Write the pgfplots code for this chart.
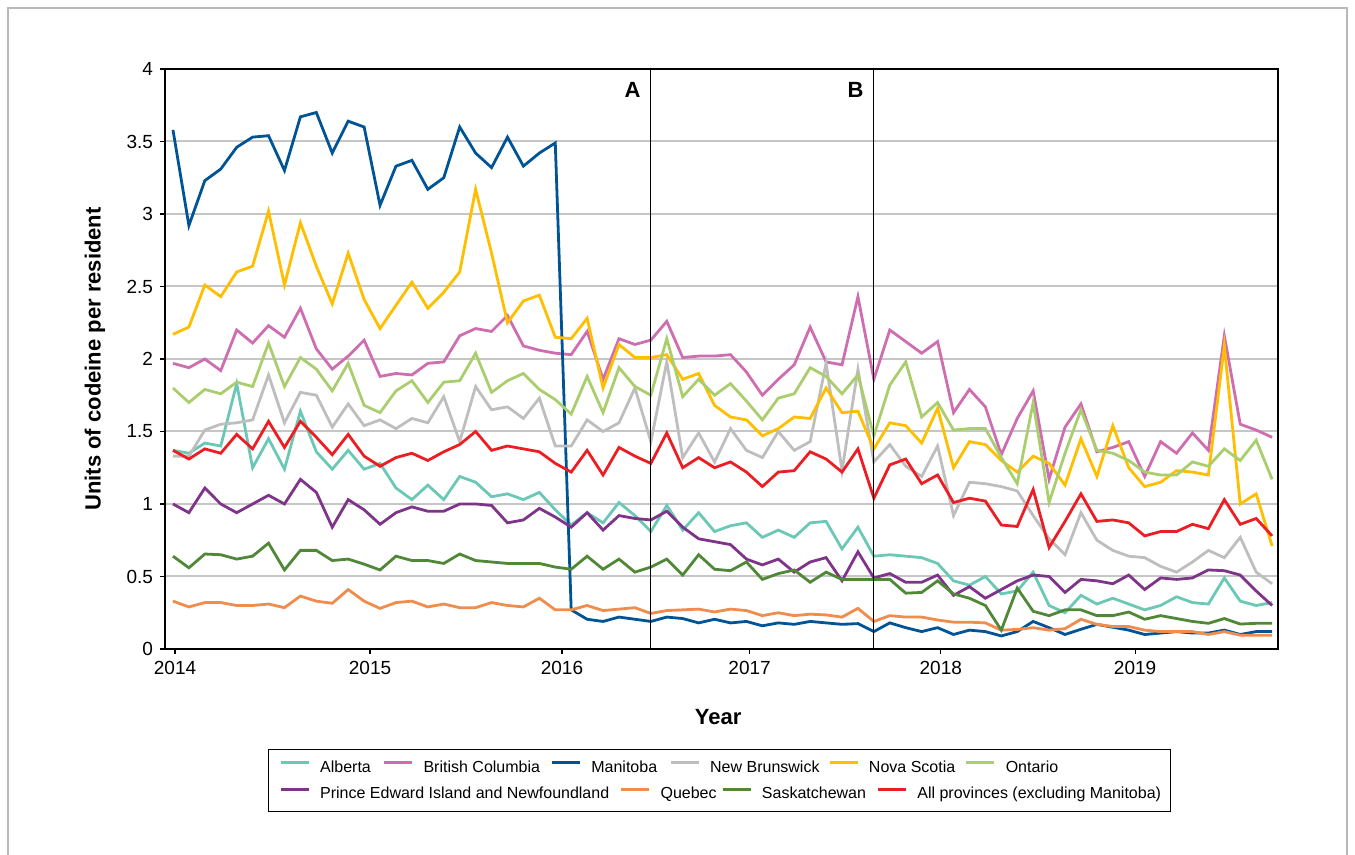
\documentclass[border=0pt]{standalone}
\usepackage{fontspec}
\setmainfont{Liberation Sans}
\usepackage{pgfplots}
\usepackage{pgfplotstable}
\pgfplotsset{compat=1.18}

\definecolor{cAlb}{RGB}{108,200,182}
\definecolor{cBC}{RGB}{206,110,176}
\definecolor{cMan}{RGB}{0,84,150}
\definecolor{cNB}{RGB}{190,190,190}
\definecolor{cNS}{RGB}{255,190,0}
\definecolor{cOn}{RGB}{170,206,110}
\definecolor{cPEI}{RGB}{126,52,136}
\definecolor{cQc}{RGB}{240,140,76}
\definecolor{cSk}{RGB}{80,136,56}
\definecolor{cAll}{RGB}{236,30,36}

% month index 0 = Jan 2014
\pgfplotstableread{
m alb bc man nb ns on pei qc sk all
0 1.37 1.97 3.58 1.33 2.17 1.80 1.00 0.33 0.64 1.37
1 1.35 1.94 2.92 1.33 2.22 1.70 0.94 0.29 0.56 1.31
2 1.42 2.00 3.23 1.51 2.51 1.79 1.11 0.32 0.655 1.38
3 1.40 1.92 3.31 1.55 2.43 1.76 1.00 0.32 0.65 1.35
4 1.83 2.20 3.46 1.56 2.60 1.84 0.94 0.30 0.62 1.48
5 1.25 2.11 3.53 1.58 2.64 1.81 1.00 0.30 0.64 1.38
6 1.45 2.23 3.54 1.89 3.02 2.11 1.06 0.31 0.73 1.57
7 1.24 2.15 3.30 1.56 2.51 1.81 1.00 0.285 0.545 1.39
8 1.64 2.35 3.67 1.77 2.94 2.01 1.17 0.365 0.68 1.57
9 1.36 2.07 3.70 1.75 2.64 1.93 1.08 0.33 0.68 1.46
10 1.24 1.93 3.42 1.53 2.38 1.78 0.84 0.315 0.61 1.34
11 1.37 2.02 3.64 1.69 2.73 1.97 1.03 0.41 0.62 1.48
12 1.24 2.13 3.60 1.54 2.41 1.68 0.96 0.33 0.585 1.33
13 1.28 1.88 3.06 1.58 2.21 1.63 0.86 0.28 0.545 1.26
14 1.11 1.90 3.33 1.52 2.37 1.78 0.94 0.32 0.64 1.32
15 1.03 1.89 3.37 1.59 2.53 1.85 0.98 0.33 0.61 1.35
16 1.13 1.97 3.17 1.56 2.35 1.70 0.95 0.29 0.61 1.30
17 1.03 1.98 3.25 1.74 2.46 1.84 0.95 0.31 0.59 1.36
18 1.19 2.16 3.60 1.43 2.60 1.85 1.00 0.285 0.655 1.41
19 1.15 2.21 3.42 1.81 3.17 2.04 1.00 0.285 0.61 1.50
20 1.05 2.19 3.32 1.65 2.73 1.77 0.99 0.32 0.60 1.37
21 1.07 2.30 3.53 1.67 2.25 1.85 0.87 0.30 0.59 1.40
22 1.03 2.09 3.33 1.59 2.40 1.90 0.89 0.29 0.59 1.38
23 1.08 2.06 3.42 1.73 2.44 1.79 0.97 0.35 0.59 1.36
24 0.96 2.04 3.49 1.40 2.15 1.72 0.91 0.27 0.565 1.28
25 0.855 2.03 0.27 1.40 2.14 1.62 0.84 0.27 0.55 1.22
26 0.94 2.19 0.205 1.58 2.28 1.88 0.94 0.30 0.64 1.37
27 0.87 1.86 0.19 1.50 1.80 1.63 0.82 0.265 0.55 1.20
28 1.01 2.14 0.22 1.56 2.10 1.94 0.92 0.275 0.62 1.39
29 0.92 2.10 0.205 1.80 2.01 1.81 0.90 0.285 0.53 1.33
30 0.81 2.13 0.19 1.43 2.01 1.75 0.89 0.245 0.565 1.28
31 0.99 2.26 0.22 1.98 2.03 2.14 0.95 0.265 0.62 1.49
32 0.82 2.01 0.21 1.32 1.86 1.74 0.84 0.27 0.51 1.25
33 0.94 2.02 0.18 1.49 1.90 1.86 0.76 0.275 0.65 1.32
34 0.81 2.02 0.205 1.29 1.68 1.75 0.74 0.255 0.55 1.25
35 0.85 2.03 0.18 1.52 1.60 1.83 0.72 0.275 0.54 1.29
36 0.87 1.91 0.19 1.37 1.58 1.71 0.62 0.265 0.60 1.22
37 0.77 1.75 0.16 1.32 1.47 1.58 0.58 0.23 0.48 1.12
38 0.82 1.86 0.18 1.50 1.52 1.73 0.62 0.25 0.52 1.22
39 0.77 1.96 0.17 1.37 1.60 1.76 0.53 0.23 0.545 1.23
40 0.87 2.22 0.19 1.43 1.59 1.94 0.60 0.24 0.46 1.36
41 0.88 1.98 0.18 1.97 1.80 1.88 0.63 0.235 0.53 1.31
42 0.69 1.96 0.17 1.23 1.63 1.76 0.47 0.22 0.48 1.22
43 0.84 2.43 0.175 1.93 1.64 1.89 0.67 0.28 0.48 1.38
44 0.64 1.86 0.12 1.29 1.38 1.47 0.49 0.19 0.48 1.04
45 0.65 2.20 0.18 1.41 1.56 1.82 0.52 0.23 0.48 1.27
46 0.64 2.12 0.147 1.26 1.54 1.98 0.46 0.22 0.385 1.31
47 0.63 2.04 0.12 1.19 1.42 1.60 0.46 0.22 0.39 1.14
48 0.59 2.12 0.147 1.40 1.66 1.70 0.51 0.20 0.47 1.20
49 0.47 1.63 0.10 0.92 1.25 1.51 0.37 0.185 0.38 1.01
50 0.44 1.79 0.13 1.15 1.43 1.52 0.43 0.185 0.35 1.04
51 0.50 1.67 0.12 1.14 1.41 1.52 0.35 0.18 0.30 1.02
52 0.38 1.34 0.09 1.12 1.30 1.32 0.41 0.13 0.13 0.855
53 0.40 1.59 0.12 1.09 1.22 1.14 0.47 0.135 0.42 0.845
54 0.53 1.78 0.19 0.92 1.33 1.70 0.51 0.147 0.26 1.10
55 0.30 1.17 0.147 0.76 1.28 1.01 0.50 0.13 0.23 0.70
56 0.25 1.53 0.10 0.65 1.13 1.35 0.39 0.14 0.27 0.88
57 0.37 1.69 0.136 0.94 1.45 1.65 0.48 0.205 0.27 1.07
58 0.31 1.36 0.17 0.75 1.19 1.37 0.47 0.17 0.23 0.88
59 0.35 1.39 0.15 0.68 1.54 1.35 0.45 0.155 0.23 0.89
60 0.31 1.43 0.13 0.64 1.25 1.30 0.51 0.155 0.255 0.87
61 0.27 1.19 0.10 0.63 1.12 1.22 0.41 0.13 0.205 0.78
62 0.30 1.43 0.11 0.57 1.15 1.20 0.49 0.12 0.23 0.81
63 0.36 1.35 0.12 0.53 1.23 1.20 0.48 0.12 0.21 0.81
64 0.32 1.49 0.11 0.60 1.22 1.29 0.49 0.12 0.19 0.86
65 0.31 1.37 0.11 0.68 1.20 1.26 0.545 0.10 0.177 0.83
66 0.49 2.16 0.13 0.63 2.09 1.38 0.54 0.12 0.21 1.03
67 0.33 1.55 0.10 0.77 1.00 1.30 0.51 0.095 0.172 0.86
68 0.30 1.51 0.12 0.53 1.07 1.44 0.40 0.095 0.177 0.90
69 0.32 1.46 0.12 0.45 0.71 1.17 0.30 0.095 0.177 0.78
}\data

\newcommand{\lent}[2]{\makebox[#1][l]{\hspace{5pt}#2}}

% shared geometry and legend look for both axes
\pgfplotsset{
  frame/.style={
    at={(82.5pt,103pt)}, anchor=south west,
    scale only axis, width=556.5pt, height=290pt,
    xmin=-0.5, xmax=69.37, ymin=0, ymax=4},
  legrow/.style={
    legend columns=-1, legend cell align=left,
    legend style={at={(axis description cs:0.1024,#1)}, anchor=west,
      draw=none, fill=none, inner sep=0pt, column sep=0pt,
      font=\fontsize{8}{9.6}\selectfont,
      nodes={inner sep=0pt, text height=6pt, text depth=2pt}},
    legend image code/.code={\draw[##1] (0pt,2.8pt) -- (14pt,2.8pt);}},
}

\begin{document}
\begin{tikzpicture}
\path[use as bounding box] (0,0) rectangle (677.5pt,427.5pt);
\draw[gray!55, line width=0.6pt] (4pt,0pt) -- (4pt,423.5pt) -- (673.5pt,423.5pt) -- (673.5pt,0pt);
% legend box
\draw[black, line width=0.5pt] (134pt,21.5pt) rectangle (585pt,52.5pt);
\begin{axis}[
  frame, legrow=-0.2052,
  xtick={0.13,12.37,24.42,36.2,48.2,60.4},
  xticklabels={2014,2015,2016,2017,2018,2019},
  ytick={0,0.5,1,1.5,2,2.5,3,3.5,4},
  yticklabels={0,0.5,1,1.5,2,2.5,3,3.5,4},
  ymajorgrids, major grid style={color=gray!45, line width=1pt},
  axis line style={black, line width=0.6pt},
  tick style={black, line width=0.6pt},
  major tick length=2.5pt, tick align=outside, tick pos=left,
  ticklabel style={font=\fontsize{9.5}{11}\selectfont},
  /pgf/number format/assume math mode=true,
  xlabel={Year}, ylabel={Units of codeine per resident},
  label style={font=\bfseries\fontsize{11}{13}\selectfont},
  xlabel style={at={(axis description cs:0.497,-0.117)}, anchor=center},
  ylabel style={at={(axis description cs:-0.063,0.5)}, anchor=center},
  every axis plot/.append style={line width=1.4pt, mark=none},
]
\addplot[cAlb] table[x=m,y=alb]{\data}; \addlegendentry{\lent{36.3pt}{Alberta}}
\addplot[cBC] table[x=m,y=bc]{\data}; \addlegendentry{\lent{68.5pt}{British Columbia}}
\addplot[cMan] table[x=m,y=man]{\data}; \addlegendentry{\lent{44pt}{Manitoba}}
\addplot[cNB] table[x=m,y=nb]{\data}; \addlegendentry{\lent{64pt}{New Brunswick}}
\addplot[cNS] table[x=m,y=ns]{\data}; \addlegendentry{\lent{53pt}{Nova Scotia}}
\addplot[cOn] table[x=m,y=on]{\data}; \addlegendentry{\lent{30pt}{Ontario}}
\addplot[cPEI] table[x=m,y=pei]{\data};
\addplot[cQc] table[x=m,y=qc]{\data};
\addplot[cSk] table[x=m,y=sk]{\data};
\addplot[cAll] table[x=m,y=all]{\data};
\draw[black, line width=0.6pt] (axis cs:30,0) -- (axis cs:30,4);
\draw[black, line width=0.6pt] (axis cs:44,0) -- (axis cs:44,4);
\node[anchor=north east, inner sep=0pt, font=\bfseries\fontsize{11}{13}\selectfont]
  at ([xshift=-5pt,yshift=-6.5pt]axis cs:30,4) {A};
\node[anchor=north east, inner sep=0pt, font=\bfseries\fontsize{11}{13}\selectfont]
  at ([xshift=-5pt,yshift=-6.5pt]axis cs:44,4) {B};
\end{axis}
% second legend row
\begin{axis}[frame, legrow=-0.2517, hide axis]
\addlegendimage{cPEI, line width=1.4pt} \addlegendentry{\lent{154.8pt}{Prince Edward Island and Newfoundland}}
\addlegendimage{cQc, line width=1.4pt} \addlegendentry{\lent{35.3pt}{Quebec}}
\addlegendimage{cSk, line width=1.4pt} \addlegendentry{\lent{62.3pt}{Saskatchewan}}
\addlegendimage{cAll, line width=1.4pt} \addlegendentry{\lent{125pt}{All provinces (excluding Manitoba)}}
\end{axis}
\end{tikzpicture}
\end{document}
